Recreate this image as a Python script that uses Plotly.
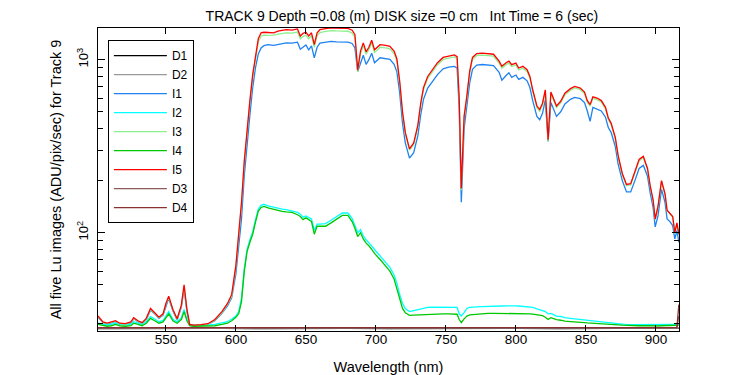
import plotly.graph_objects as go

# Wavelength grid (nm)
wl = [501.5, 505, 508, 511, 514, 517, 521, 525, 527, 530,
      533, 536, 539, 542, 545, 548, 550, 552, 555, 558,
      561, 563, 565, 567, 570, 575, 580, 585, 590, 594,
      597, 600, 602, 604, 606, 608, 610, 612, 614, 616,
      618, 620, 623, 627, 630, 633, 636, 640, 644, 646,
      648, 650, 652, 654, 656, 658, 660, 664, 668, 672,
      676, 680, 683, 685, 687, 689, 691, 693, 695, 697,
      699, 703, 707, 710, 713, 715, 717, 719, 721, 724,
      727, 730, 732, 734, 737, 740, 744, 748, 752, 756,
      758, 759.5, 761, 763, 765, 767, 769, 772, 776, 780,
      784, 788, 790, 793, 795, 797, 800, 802, 805, 808,
      810, 812, 815, 817, 819, 821, 823, 825, 827, 829,
      832, 835, 839, 842, 846, 849, 851, 853, 855, 858,
      861, 864, 866, 868, 871, 873, 876, 879, 882, 885,
      888, 891, 894, 896, 898, 899.5, 901.5, 904, 906.5, 908,
      910, 912, 913.5, 915, 916.4]

I1 = [32.5, 30.2, 29.7, 30.2, 30.6, 29.7, 29.5, 30.1, 31.8, 30.6,
      29.9, 31.5, 35.6, 34, 32, 33.4, 38, 41.8, 35.3, 31.3,
      37, 47.5, 35, 29.1, 28.9, 29.1, 29.5, 31, 34.2, 37.8,
      42, 58, 82, 120, 215, 330, 480, 690, 900, 1080,
      1170, 1205, 1220, 1210, 1225, 1235, 1250, 1245, 1262, 1150,
      1190, 1215, 1140, 1200, 1024, 1180, 1245, 1262, 1275, 1268,
      1268, 1262, 1240, 1170, 855, 960, 1060, 940, 1000, 1090,
      960, 1025, 1015, 1005, 940, 850, 640, 430, 330, 270,
      290, 365, 480, 590, 685, 745, 820, 885, 905, 915,
      895, 520, 150, 400, 530, 735, 880, 930, 938, 932,
      925, 845, 760, 810, 840, 790, 815, 770, 790, 755,
      690, 580, 470, 450, 490, 585, 337, 565, 515, 470,
      500, 555, 590, 605, 595, 565, 505, 440, 530, 520,
      505, 465, 405, 380, 315, 250, 200, 172, 172, 200,
      235, 245, 212, 168, 140, 108, 125, 178, 150, 120,
      116, 110, 92, 103, 88]

I2 = [30, 29.5, 29.3, 29.5, 30, 29.5, 29.3, 29.5, 30.6, 30,
      29.5, 30.6, 32.8, 31.7, 30.6, 31.1, 32.8, 35, 31.6, 30.6,
      32.2, 36, 31.6, 29.5, 29.2, 29.2, 29.2, 29.5, 30, 30.6,
      31.7, 33, 35, 42, 62, 80, 91, 101, 119, 137,
      144, 146, 143, 140, 138, 137, 136, 134, 131, 128,
      123, 125, 122, 120, 103, 112, 112, 113, 118, 124,
      130, 130, 121, 110, 100, 104, 96, 91, 88, 84,
      80, 73, 67, 63, 57, 51, 44, 39, 36.5, 35,
      35.5, 36, 36.5, 36.8, 37, 37.2, 37.2, 37.3, 37.3, 37.3,
      37, 34, 33, 34.5, 36.5, 37, 37.2, 37.3, 37.4, 37.4,
      37.5, 37.6, 37.7, 37.8, 37.9, 37.9, 37.8, 37.7, 37.6, 37.4,
      37.3, 37, 36.3, 36, 35.5, 35, 34, 34.2, 33.4, 33,
      32.8, 32.3, 32, 31.8, 31.5, 31.2, 31.1, 31, 30.9, 30.7,
      30.5, 30.3, 30.2, 30, 29.8, 29.6, 29.5, 29.4, 29.4, 29.4,
      29.4, 29.4, 29.5, 29.4, 29.4, 29.3, 29.4, 29.4, 29.4, 29.4,
      29.4, 29.4, 29.4, 29.4, 29.5]

I3 = [32.7, 30.3, 29.8, 30.3, 30.8, 29.8, 29.6, 30.3, 32, 30.8,
      30, 31.7, 36, 34.2, 32.2, 33.7, 38.5, 42.3, 35.6, 31.5,
      37.5, 48.5, 35.5, 29.3, 29, 29.2, 29.6, 31.2, 34.6, 38.5,
      43, 63, 92, 145, 252, 390, 565, 795, 1030, 1270,
      1370, 1385, 1380, 1385, 1405, 1415, 1430, 1425, 1445, 1320,
      1365, 1385, 1320, 1375, 1180, 1380, 1435, 1455, 1470, 1465,
      1468, 1460, 1425, 1350, 850, 1080, 1205, 1075, 1140, 1250,
      1100, 1180, 1170, 1155, 1085, 980, 735, 490, 372, 300,
      322, 410, 545, 672, 780, 848, 935, 1003, 1022, 1037,
      1013, 585, 176, 458, 604, 838, 1003, 1057, 1063, 1057,
      1047, 955, 893, 936, 955, 912, 931, 873, 892, 853,
      781, 655, 528, 503, 547, 655, 338, 636, 577, 528,
      562, 626, 666, 686, 671, 637, 568, 539, 598, 588,
      569, 520, 451, 422, 348, 275, 216, 187, 189, 221,
      260, 272, 232, 183, 153, 119, 140, 198, 166, 134,
      129, 123, 99, 113, 97]

I4 = [29.5, 29, 28.8, 29, 29.5, 29, 28.8, 29, 30, 29.5,
      29, 30, 32, 31, 30, 30.5, 32, 34, 31, 30,
      31.5, 35, 31, 29, 28.8, 28.8, 28.8, 29, 29.5, 30,
      31, 32.5, 34, 40, 60, 78, 88, 98, 115, 133,
      140, 142, 139, 136, 134, 133, 132, 131, 127, 124,
      119, 122, 119, 116, 98, 109, 109, 109, 114, 120,
      126, 126, 116, 106, 95, 100, 92, 87, 84, 80,
      76, 70, 64, 60, 54, 47, 41, 36.5, 34.5, 33.3,
      33.4, 33.5, 33.6, 33.6, 33.8, 34, 34, 34, 34, 34,
      33.8, 31.5, 30.2, 31.8, 33, 33.5, 33.6, 34, 34, 34.2,
      34.2, 34.2, 34.3, 34.3, 34.3, 34.3, 34.3, 34.2, 34.2, 34,
      34, 33.8, 33.6, 33.4, 33.2, 32.5, 31.5, 32.3, 31.8, 31.5,
      31.2, 30.8, 30.6, 30.4, 30.3, 30.2, 30.1, 30, 30, 29.9,
      29.8, 29.7, 29.6, 29.5, 29.4, 29.3, 29.2, 29.1, 29, 29,
      29, 29, 29.1, 29, 29, 28.9, 29, 29, 29, 29.1,
      29.1, 29.1, 29.1, 29.2, 29.2]

I5 = [33, 30.5, 30, 30.5, 31, 30, 29.8, 30.5, 32.3, 31,
      30.2, 32, 36.5, 34.5, 32.5, 34, 39, 43, 36, 31.8,
      38, 50, 36, 29.5, 29.2, 29.4, 29.8, 31.5, 35, 39,
      44, 65, 95, 150, 260, 400, 580, 820, 1070, 1320,
      1430, 1440, 1435, 1430, 1460, 1470, 1490, 1480, 1505, 1370,
      1420, 1440, 1370, 1430, 1220, 1430, 1490, 1510, 1525, 1520,
      1525, 1515, 1480, 1400, 870, 1120, 1250, 1110, 1180, 1295,
      1140, 1220, 1210, 1195, 1120, 1010, 750, 500, 380, 305,
      330, 420, 560, 690, 800, 870, 960, 1030, 1050, 1065,
      1040, 600, 180, 470, 620, 860, 1030, 1085, 1092, 1085,
      1075, 980, 915, 960, 980, 935, 955, 895, 915, 875,
      800, 670, 540, 515, 560, 670, 345, 650, 590, 540,
      575, 640, 680, 700, 685, 650, 580, 550, 610, 600,
      580, 530, 460, 430, 355, 280, 220, 190, 192, 225,
      265, 276, 235, 185, 155, 120, 142, 200, 168, 135,
      130, 124, 100, 114, 98]

# Dark frames on their own coarser grid
dark_wl = [501.5, 530, 560, 590, 620, 650, 680, 710, 740, 770,
           800, 830, 860, 890, 915, 916.4]
D1 = [27.9, 28.0, 27.9, 28.0, 27.9, 28.0, 28.0, 27.9, 28.0, 27.9,
      28.0, 27.9, 28.0, 27.9, 28.0, 28.1]
D2 = [28.1, 28.0, 28.1, 28.0, 28.1, 28.1, 28.0, 28.1, 28.0, 28.1,
      28.0, 28.1, 28.0, 28.1, 28.1, 28.3]
D3 = [28.2, 28.2, 28.3, 28.2, 28.2, 28.3, 28.2, 28.2, 28.3, 28.2,
      28.2, 28.3, 28.2, 28.2, 28.3, 33.0]
D4 = [28.3, 28.3, 28.3, 28.3, 28.3, 28.3, 28.3, 28.3, 28.3, 28.3,
      28.3, 28.3, 28.3, 28.3, 28.3, 38.5]

for s in (I1, I2, I3, I4, I5):
    assert len(s) == len(wl)

series = [
    ("D1", dark_wl, D1, "#000000"),
    ("D2", dark_wl, D2, "#999999"),
    ("I1", wl, I1, "#1E82F0"),
    ("I2", wl, I2, "#00FFFF"),
    ("I3", wl, I3, "#8CF08C"),
    ("I4", wl, I4, "#00C800"),
    ("I5", wl, I5, "#FF0000"),
    ("D3", dark_wl, D3, "#8C5A5A"),
    ("D4", dark_wl, D4, "#8B3030"),
]

FONT = "Arial, Liberation Sans, sans-serif"

fig = go.Figure()
for name, x, y, c in series:
    fig.add_trace(go.Scatter(x=x, y=y, name=name, mode="lines",
                             line=dict(color=c, width=1.3)))

# the page body adds an 8 px offset, so margins are shifted by 8 px
fig.update_layout(
    width=750, height=375,
    margin=dict(l=90, r=79, t=20, b=52, autoexpand=False),
    paper_bgcolor="white", plot_bgcolor="white",
    font=dict(family=FONT, size=13, color="black"),
    title=dict(text="TRACK 9 Depth =0.08 (m) DISK size =0 cm   Int Time = 6 (sec)",
               x=0.523, xref="paper", xanchor="center",
               y=1 - 8 / 375, yref="container", yanchor="middle",
               font=dict(family=FONT, size=14, color="black")),
    legend=dict(x=0.017, y=0.96, xanchor="left", yanchor="top",
                bordercolor="black", borderwidth=1, bgcolor="white",
                font=dict(family=FONT, size=12, color="black"),
                tracegroupgap=0, itemwidth=53),
    showlegend=True,
)
fig.update_xaxes(
    range=[501.5, 916.5], dtick=50, tick0=500, automargin=False,
    showline=True, linecolor="black", linewidth=1, mirror="ticks",
    ticks="inside", ticklen=6, tickcolor="black",
    showgrid=False, zeroline=False, ticklabelstandoff=-4,
    tickfont=dict(family=FONT, size=13.5, color="black"),
    title=dict(text="Wavelength (nm)", standoff=15,
               font=dict(family=FONT, size=14.5, color="black")),
)
fig.update_yaxes(
    type="log", range=[1.432, 3.183], dtick=1, exponentformat="power",
    tickangle=-90, automargin=False, ticklabelstandoff=4,
    showline=True, linecolor="black", linewidth=1, mirror="ticks",
    ticks="inside", ticklen=7, tickcolor="black",
    minor=dict(ticks="inside", ticklen=5, tickcolor="black", dtick="D1", showgrid=False),
    showgrid=False, zeroline=False,
    tickfont=dict(family=FONT, size=10.5, color="black"),
    title=dict(text="All five Lu images (ADU/pix/sec) for Track 9", standoff=9,
               font=dict(family=FONT, size=14.5, color="black")),
)

fig.write_html("out.html")
